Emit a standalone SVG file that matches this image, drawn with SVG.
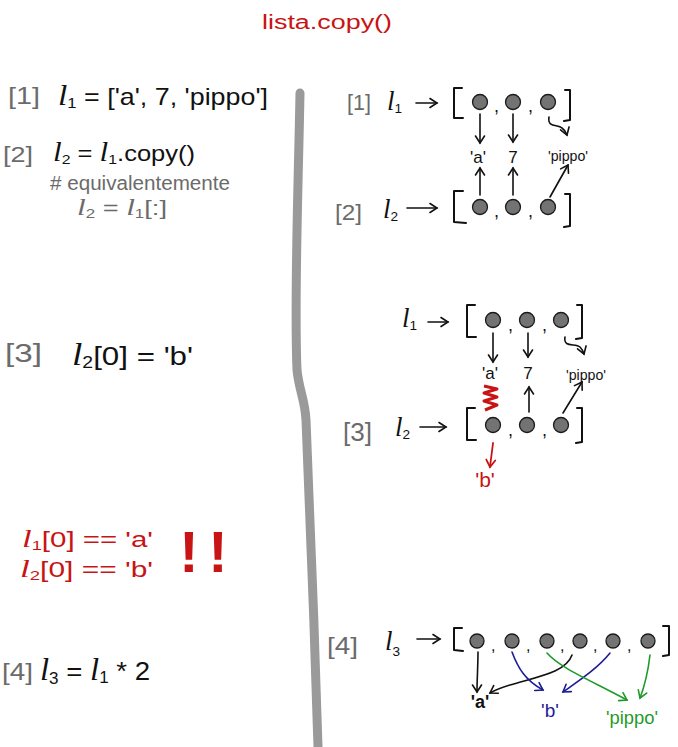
<svg xmlns="http://www.w3.org/2000/svg" width="678" height="747" viewBox="0 0 678 747">
<style>
text{font-family:"Liberation Sans","DejaVu Sans",sans-serif;}
.k{fill:#111}
.g{fill:#6b6b6b}
.r{fill:#c81414}
.bl{fill:#1c1c96}
.gr{fill:#1f9a2a}
.ell{font-family:"Liberation Serif","DejaVu Serif",serif;font-style:italic;}
.sub{font-size:0.62em}
.ln{fill:none;stroke:#111;stroke-width:1.6;stroke-linecap:round;stroke-linejoin:round}
.br{fill:none;stroke:#111;stroke-width:2;stroke-linecap:round;stroke-linejoin:round}
.ci{fill:#737373;stroke:#1a1a1a;stroke-width:1.3}
.lbl{text-anchor:middle}
</style>
<defs>
<marker id="ak" markerWidth="12" markerHeight="12" refX="9" refY="6" orient="auto" markerUnits="userSpaceOnUse"><path d="M2,1.5 L9,6 L2,10.5" fill="none" stroke="#111" stroke-width="1.6" stroke-linecap="round"/></marker>
<marker id="ar" markerWidth="12" markerHeight="12" refX="9" refY="6" orient="auto" markerUnits="userSpaceOnUse"><path d="M2,1.5 L9,6 L2,10.5" fill="none" stroke="#c81414" stroke-width="1.8" stroke-linecap="round"/></marker>
<marker id="ab" markerWidth="12" markerHeight="12" refX="9" refY="6" orient="auto" markerUnits="userSpaceOnUse"><path d="M2,1.5 L9,6 L2,10.5" fill="none" stroke="#1c1c96" stroke-width="1.6" stroke-linecap="round"/></marker>
<marker id="ag" markerWidth="12" markerHeight="12" refX="9" refY="6" orient="auto" markerUnits="userSpaceOnUse"><path d="M2,1.5 L9,6 L2,10.5" fill="none" stroke="#1f9a2a" stroke-width="1.6" stroke-linecap="round"/></marker>
</defs>
<rect width="678" height="747" fill="#fff"/>

<g id="title"><text class="r" x="262" y="29" font-size="20" textLength="130" lengthAdjust="spacingAndGlyphs">lista.copy()</text></g>

<g id="divider"><path d="M300,93 C298,200 294,300 297,370 C299,390 305,400 306,420 C310,520 315,640 318,747" fill="none" stroke="#9a9a9a" stroke-width="9" stroke-linecap="round"/></g>

<g id="left-code">
<g id="code1">
<text class="g" x="8" y="104" font-size="24" textLength="32" lengthAdjust="spacingAndGlyphs">[1]</text>
<text class="k" x="58" y="105" font-size="24" textLength="210" lengthAdjust="spacingAndGlyphs"><tspan class="ell" font-size="30">l</tspan><tspan class="sub" dy="3">1</tspan><tspan dy="-3"> = ['a', 7, 'pippo']</tspan></text>
</g>
<g id="code2">
<text class="g" x="3" y="162" font-size="22" textLength="30" lengthAdjust="spacingAndGlyphs">[2]</text>
<text class="k" x="53" y="161" font-size="22" textLength="142" lengthAdjust="spacingAndGlyphs"><tspan class="ell" font-size="27">l</tspan><tspan class="sub" dy="3">2</tspan><tspan dy="-3"> = </tspan><tspan class="ell" font-size="27">l</tspan><tspan class="sub" dy="3">1</tspan><tspan dy="-3">.copy()</tspan></text>
<text class="g" x="50" y="190" font-size="20" textLength="180" lengthAdjust="spacingAndGlyphs"># equivalentemente</text>
<text class="g" x="77" y="215" font-size="20" textLength="90" lengthAdjust="spacingAndGlyphs"><tspan class="ell" font-size="23">l</tspan><tspan class="sub" dy="3">2</tspan><tspan dy="-3"> = </tspan><tspan class="ell" font-size="23">l</tspan><tspan class="sub" dy="3">1</tspan><tspan dy="-3">[:]</tspan></text>
</g>
<g id="code3">
<text class="g" x="5" y="362" font-size="26" textLength="37" lengthAdjust="spacingAndGlyphs">[3]</text>
<text class="k" x="72" y="365" font-size="26" textLength="121" lengthAdjust="spacingAndGlyphs"><tspan class="ell" font-size="31">l</tspan><tspan class="sub" dy="3">2</tspan><tspan dy="-3">[0] = 'b'</tspan></text>
</g>
<g id="check">
<text class="r" x="22" y="547" font-size="22" textLength="131" lengthAdjust="spacingAndGlyphs"><tspan class="ell" font-size="26">l</tspan><tspan class="sub" dy="3">1</tspan><tspan dy="-3">[0] == 'a'</tspan></text>
<text class="r" x="20" y="577" font-size="22" textLength="133" lengthAdjust="spacingAndGlyphs"><tspan class="ell" font-size="26">l</tspan><tspan class="sub" dy="3">2</tspan><tspan dy="-3">[0] == 'b'</tspan></text>
<text class="r" x="189" y="572" font-size="58" font-weight="bold" text-anchor="middle">!</text>
<text class="r" x="218" y="572" font-size="58" font-weight="bold" text-anchor="middle">!</text>
</g>
<g id="code4">
<text class="g" x="2" y="680" font-size="24" textLength="31" lengthAdjust="spacingAndGlyphs">[4]</text>
<text class="k" x="40" y="680" font-size="26" textLength="110" lengthAdjust="spacingAndGlyphs"><tspan class="ell" font-size="31">l</tspan><tspan class="sub" dy="4">3</tspan><tspan dy="-4"> = </tspan><tspan class="ell" font-size="31">l</tspan><tspan class="sub" dy="3">1</tspan><tspan dy="-3"> * 2</tspan></text>
</g>
</g>

<g id="panel1">
<g id="p1-l1">
<text class="g" x="347" y="110" font-size="22" textLength="24" lengthAdjust="spacingAndGlyphs">[1]</text>
<text class="k" x="387" y="110" font-size="22"><tspan class="ell" font-size="27">l</tspan><tspan class="sub" dy="3">1</tspan></text>
<path class="br" d="M462,88 L454,88 L454,118 L463,118"/>
<circle class="ci" cx="480" cy="102" r="7.5"/>
<circle class="ci" cx="513" cy="102" r="7.5"/>
<circle class="ci" cx="548" cy="102" r="7.5"/>
<text class="k" x="494" y="112" font-size="18">,</text>
<text class="k" x="528" y="112" font-size="18">,</text>
<path class="br" d="M565,90 L570,90 L570,120 L564,121"/>
</g>
<g id="p1-vals">
<text class="k lbl" x="478" y="163" font-size="17">'a'</text>
<text class="k lbl" x="513" y="163" font-size="17">7</text>
<text class="k lbl" x="568" y="161" font-size="15" textLength="40" lengthAdjust="spacingAndGlyphs">'pippo'</text>
</g>
<g id="p1-l2">
<text class="g" x="335" y="220" font-size="22" textLength="27" lengthAdjust="spacingAndGlyphs">[2]</text>
<text class="k" x="383" y="218" font-size="22"><tspan class="ell" font-size="27">l</tspan><tspan class="sub" dy="3">2</tspan></text>
<path class="br" d="M463,191 L454,191 L454,222 L466,223"/>
<circle class="ci" cx="480" cy="207" r="7.5"/>
<circle class="ci" cx="513" cy="207" r="7.5"/>
<circle class="ci" cx="548" cy="207" r="7.5"/>
<text class="k" x="494" y="217" font-size="18">,</text>
<text class="k" x="528" y="217" font-size="18">,</text>
<path class="br" d="M565,194 L570,194 L570,226 L564,227"/>
</g>
</g>

<g id="panel2">
<g id="p2-l1">
<text class="k" x="402" y="327" font-size="22"><tspan class="ell" font-size="27">l</tspan><tspan class="sub" dy="3">1</tspan></text>
<path class="br" d="M475,305 L467,305 L467,337 L476,337"/>
<circle class="ci" cx="493" cy="320" r="7.5"/>
<circle class="ci" cx="527" cy="320" r="7.5"/>
<circle class="ci" cx="561" cy="320" r="7.5"/>
<text class="k" x="508" y="331" font-size="18">,</text>
<text class="k" x="542" y="331" font-size="18">,</text>
<path class="br" d="M577,305 L582,305 L582,338 L576,339"/>
</g>
<g id="p2-vals">
<text class="k lbl" x="490" y="379" font-size="17">'a'</text>
<text class="k lbl" x="528" y="379" font-size="17">7</text>
<text class="k lbl" x="586" y="380" font-size="15" textLength="40" lengthAdjust="spacingAndGlyphs">'pippo'</text>
<text class="r lbl" x="485" y="487" font-size="21">'b'</text>
</g>
<g id="p2-l2">
<text class="g" x="343" y="441" font-size="26" textLength="29" lengthAdjust="spacingAndGlyphs">[3]</text>
<text class="k" x="395" y="436" font-size="22"><tspan class="ell" font-size="27">l</tspan><tspan class="sub" dy="3">2</tspan></text>
<path class="br" d="M475,408 L467,408 L467,440 L476,440"/>
<circle class="ci" cx="493" cy="425" r="7.5"/>
<circle class="ci" cx="527" cy="425" r="7.5"/>
<circle class="ci" cx="561" cy="425" r="7.5"/>
<text class="k" x="508" y="436" font-size="18">,</text>
<text class="k" x="542" y="436" font-size="18">,</text>
<path class="br" d="M577,408 L582,408 L582,442 L576,443"/>
</g>
</g>

<g id="panel3">
<g id="p3-l3">
<text class="g" x="327" y="654" font-size="24" textLength="31" lengthAdjust="spacingAndGlyphs">[4]</text>
<text class="k" x="385" y="650" font-size="22"><tspan class="ell" font-size="27">l</tspan><tspan class="sub" dy="6">3</tspan></text>
<path class="br" d="M462,628 L454,628 L454,650 L463,651"/>
<circle class="ci" cx="477" cy="641" r="7"/>
<circle class="ci" cx="512" cy="641" r="7"/>
<circle class="ci" cx="547" cy="641" r="7"/>
<circle class="ci" cx="580" cy="641" r="7"/>
<circle class="ci" cx="613" cy="641" r="7"/>
<circle class="ci" cx="648" cy="641" r="7"/>
<text class="k" x="491" y="651" font-size="16">,</text>
<text class="k" x="526" y="651" font-size="16">,</text>
<text class="k" x="560" y="651" font-size="16">,</text>
<text class="k" x="593" y="651" font-size="16">,</text>
<text class="k" x="627" y="651" font-size="16">,</text>
<path class="br" d="M663,626 L669,626 L669,655 L663,656"/>
</g>
<g id="p3-vals">
<text class="k lbl" x="480" y="708" font-size="18" font-weight="bold">'a'</text>
<text class="bl lbl" x="550" y="717" font-size="19">'b'</text>
<text class="gr lbl" x="632" y="724" font-size="18" textLength="52" lengthAdjust="spacingAndGlyphs">'pippo'</text>
</g>
</g>

<g id="connectors">
<path class="ln" d="M416,103 L437,103" marker-end="url(#ak)"/>
<path class="ln" d="M407,208 L437,208" marker-end="url(#ak)"/>
<path class="ln" d="M480,114 L480,143" marker-end="url(#ak)"/>
<path class="ln" d="M513,114 L513,142" marker-end="url(#ak)"/>
<path class="ln" d="M549,117 C547,128 558,124 562,128 C565,130 566,132 567,135" marker-end="url(#ak)"/>
<path class="ln" d="M480,195 L480,168" marker-end="url(#ak)"/>
<path class="ln" d="M513,195 L513,168" marker-end="url(#ak)"/>
<path class="ln" d="M550,197 L568,165" marker-end="url(#ak)"/>

<path class="ln" d="M428,322 L448,322" marker-end="url(#ak)"/>
<path class="ln" d="M420,427 L446,427" marker-end="url(#ak)"/>
<path class="ln" d="M493,333 L493,362" marker-end="url(#ak)"/>
<path class="ln" d="M528,333 L528,357" marker-end="url(#ak)"/>
<path class="ln" d="M565,337 C563,348 575,343 580,347 C582,349 583,351 584,354" marker-end="url(#ak)"/>
<path class="ln" d="M529,412 L529,387" marker-end="url(#ak)"/>
<path class="ln" d="M563,413 L582,382" marker-end="url(#ak)"/>
<path d="M484,386 L497,389 L484,393 L497,397 L484,401 L497,405 L485,410" fill="none" stroke="#c81414" stroke-width="3" stroke-linejoin="round"/>
<path d="M493,443 C492,452 491,458 490,467" fill="none" stroke="#c81414" stroke-width="1.8" stroke-linecap="round" marker-end="url(#ar)"/>

<path class="ln" d="M417,639 L440,639" marker-end="url(#ak)"/>
<path class="ln" d="M478,652 C478,665 477,680 477,692" marker-end="url(#ak)"/>
<path class="ln" d="M572,655 C566,672 540,676 510,685 C500,688 495,690 490,693" marker-end="url(#ak)"/>
<path d="M512,652 C518,668 525,680 543,690" fill="none" stroke="#1c1c96" stroke-width="1.6" stroke-linecap="round" marker-end="url(#ab)"/>
<path d="M610,653 C598,668 580,680 563,692" fill="none" stroke="#1c1c96" stroke-width="1.6" stroke-linecap="round" marker-end="url(#ab)"/>
<path d="M547,653 C560,668 590,680 627,700" fill="none" stroke="#1f9a2a" stroke-width="1.6" stroke-linecap="round" marker-end="url(#ag)"/>
<path d="M650,655 C648,672 645,685 640,698" fill="none" stroke="#1f9a2a" stroke-width="1.6" stroke-linecap="round" marker-end="url(#ag)"/>
</g>
</svg>
